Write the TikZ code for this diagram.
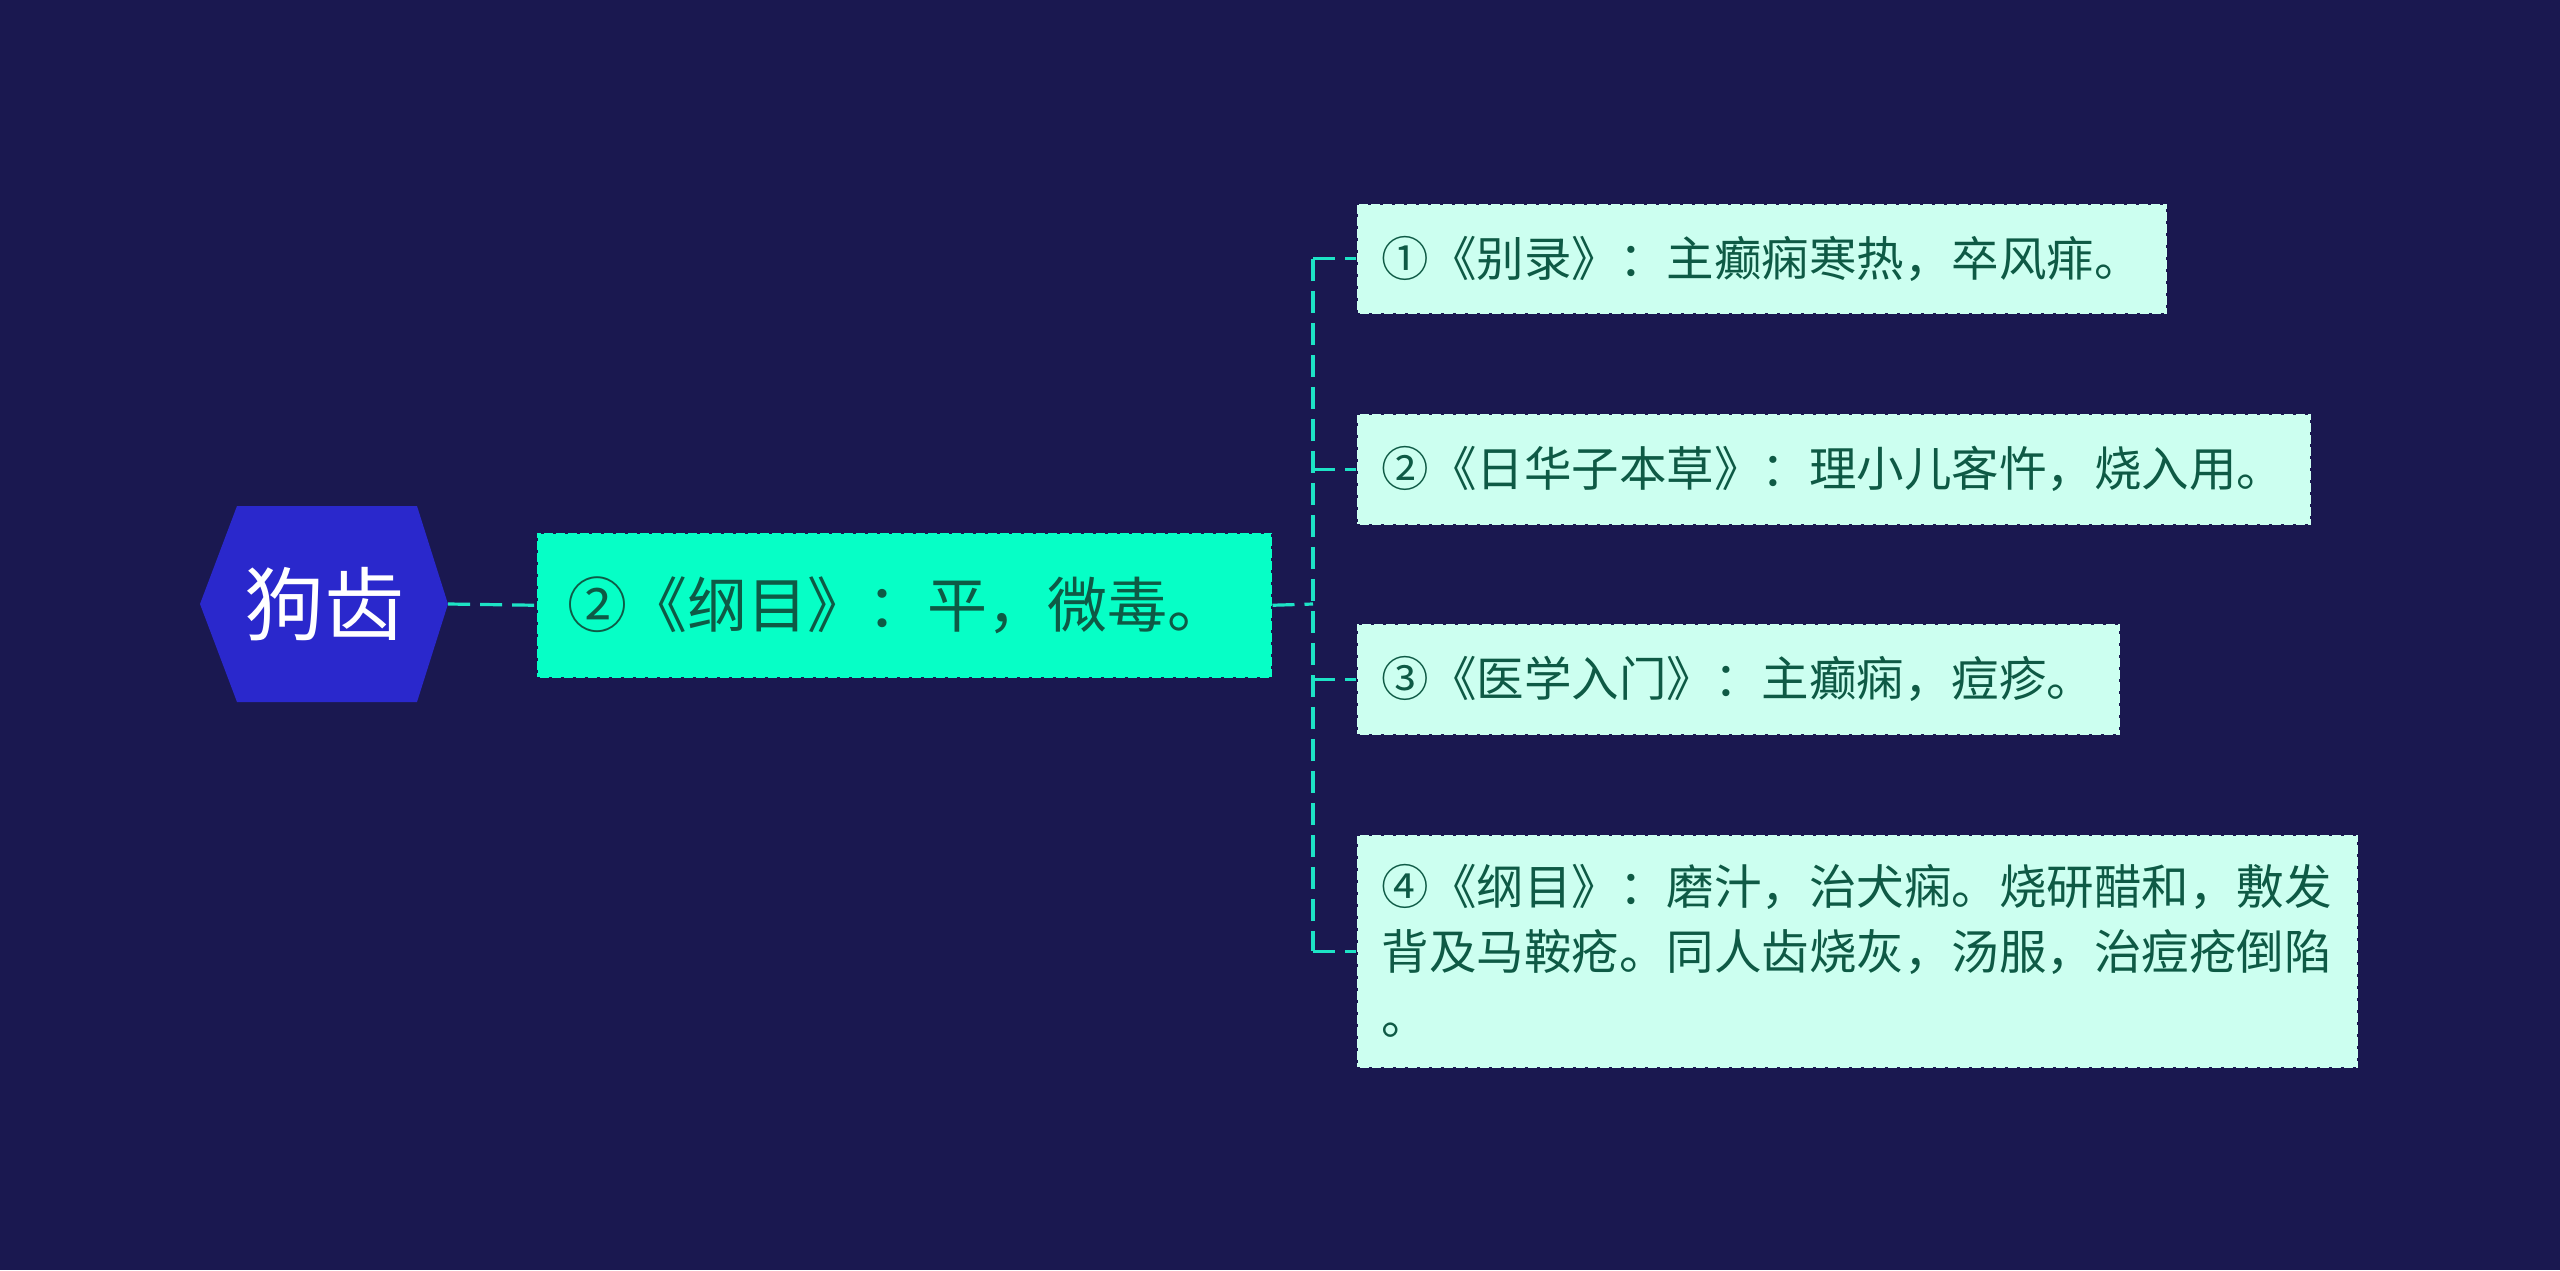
\documentclass[tikz,border=0pt]{standalone}
\usepackage{fontspec}
\newfontfamily\cjk{Noto Sans CJK SC}
\definecolor{bgc}{HTML}{1A1850}
\definecolor{hexc}{HTML}{2A28CC}
\definecolor{mainc}{HTML}{06FFC6}
\definecolor{childc}{HTML}{CCFFF0}
\definecolor{linec}{HTML}{1DE3C6}
\definecolor{txtc}{HTML}{0E5A45}
\tikzset{
  conn/.style={draw=linec, line width=3.2pt, dash pattern=on 22pt off 10pt},
  mainbox/.style={fill=mainc, draw=bgc, line width=1.5pt, dash pattern=on 3pt off 9pt,
    anchor=north west, inner sep=0pt, minimum height=145pt, minimum width=735pt,
    text width=735pt, align=left, font=\cjk\fontsize{60}{72}\selectfont, text=txtc},
  childbox/.style={fill=childc, draw=bgc, line width=1.5pt, dash pattern=on 3pt off 9pt,
    anchor=north west, inner xsep=25pt, inner ysep=0pt, align=left,
    font=\cjk\fontsize{47.5}{65}\selectfont, text=txtc},
}
\begin{document}
\begin{tikzpicture}[x=1pt,y=-1pt]
\useasboundingbox[fill=bgc] (0,0) rectangle (2560,1270);
% root hexagon
\node[minimum width=248pt, minimum height=196pt, inner sep=0pt,
  font=\cjk\fontsize{80}{92}\selectfont, text=white,
  path picture={\fill[hexc] (path picture bounding box.west)
     -- ([xshift=37pt]path picture bounding box.north west)
     -- ([xshift=-31pt]path picture bounding box.north east)
     -- (path picture bounding box.east)
     -- ([xshift=-31pt]path picture bounding box.south east)
     -- ([xshift=37pt]path picture bounding box.south west) -- cycle;}]
  (root) at (324,604) {狗齿};
% main node
\node[mainbox] (main) at (536,532) {\hspace*{31pt}②《纲目》：平，微毒。};
% children
\node[childbox, minimum width=810pt, minimum height=110pt, text width=760pt] (b1) at (1356,203) {①《别录》：主癫痫寒热，卒风痱。};
\node[childbox, minimum width=954pt, minimum height=111pt, text width=904pt] (b2) at (1356,413) {②《日华子本草》：理小儿客忤，烧入用。};
\node[childbox, minimum width=763pt, minimum height=111pt, text width=713pt] (b3) at (1356,623) {③《医学入门》：主癫痫，痘疹。};
\node[childbox, minimum width=1001pt, minimum height=233pt, text width=951pt] (b4) at (1356,834) {④《纲目》：磨汁，治犬痫。烧研醋和，敷发\\背及马鞍疮。同人齿烧灰，汤服，治痘疮倒陷\\。};
% connectors
\coordinate (trunk) at (1313,604);
\draw[conn] (root.east) -- (main.west);
\draw[conn] (main.east) -- (trunk);
\draw[conn] (trunk |- b1.west) -- (trunk |- b4.west);
\draw[conn] (trunk |- b1.west) -- (b1.west);
\draw[conn] (trunk |- b2.west) -- (b2.west);
\draw[conn] (trunk |- b3.west) -- (b3.west);
\draw[conn] (trunk |- b4.west) -- (b4.west);
\end{tikzpicture}
\end{document}
